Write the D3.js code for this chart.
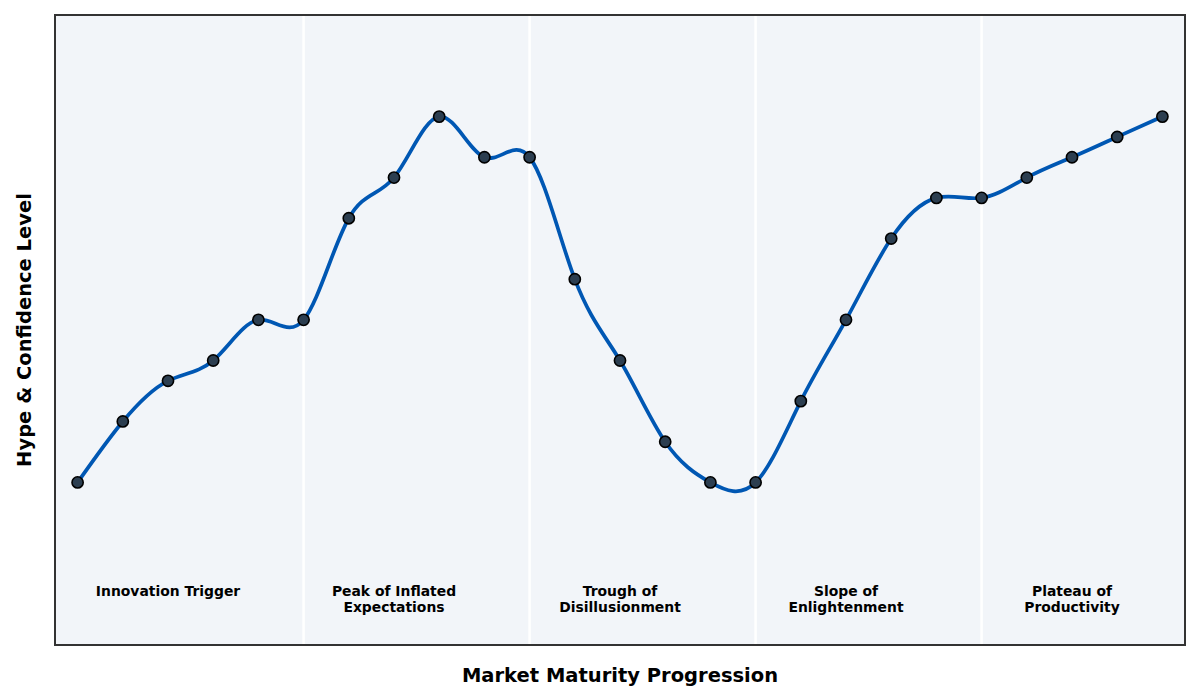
<!DOCTYPE html>
<html>
<head>
<meta charset="utf-8">
<script src="https://cdn.jsdelivr.net/npm/d3@7"></script>
<style>
  body { margin: 0; background: #fff; }
  svg { display: block; font-family: "DejaVu Sans", sans-serif; }
</style>
</head>
<body>
<div id="chart"></div>
<script>
// hype cycle points, one per step along the x axis
let steps = d3.range(0, 25);
let hype = [10, 25, 35, 40, 50, 50, 75, 85, 100, 90, 90, 60, 40, 20, 10, 10, 30, 50, 70, 80, 80, 85, 90, 95, 100];

// phases of the cycle
let phaseNames = [
  ["Innovation Trigger"],
  ["Peak of Inflated", "Expectations"],
  ["Trough of", "Disillusionment"],
  ["Slope of", "Enlightenment"],
  ["Plateau of", "Productivity"]
];
let phaseCenters = [2, 7, 12, 17, 22];
let phaseBounds = [5, 10, 15, 20];

let w = 1200;
let h = 700;
let margin = { left: 55, right: 15, top: 15, bottom: 55 };

let svg = d3.select("#chart")
  .append("svg")
  .attr("width", w)
  .attr("height", h);

let xScale = d3.scaleLinear()
  .domain([-0.5, 24.5])
  .range([margin.left, w - margin.right]);

let yScale = d3.scaleLinear()
  .domain([-30, 125])
  .range([h - margin.bottom, margin.top]);

// plot background
svg.append("rect")
  .attr("x", margin.left)
  .attr("y", margin.top)
  .attr("width", w - margin.left - margin.right)
  .attr("height", h - margin.top - margin.bottom)
  .attr("fill", "#f2f5f9");

// phase separators
svg.selectAll(".sep")
  .data(phaseBounds)
  .enter()
  .append("line")
  .attr("class", "sep")
  .attr("x1", d => xScale(d))
  .attr("x2", d => xScale(d))
  .attr("y1", margin.top)
  .attr("y2", h - margin.bottom)
  .attr("stroke", "#ffffff")
  .attr("stroke-width", 2.5);

// phase labels
let labels = svg.selectAll(".phase")
  .data(phaseNames)
  .enter()
  .append("text")
  .attr("class", "phase")
  .attr("text-anchor", "middle")
  .attr("font-size", 13.9)
  .attr("font-weight", "bold")
  .attr("fill", "#000");
labels.each(function (d, i) {
  let t = d3.select(this);
  d.forEach(function (line, j) {
    t.append("tspan")
      .attr("x", xScale(phaseCenters[i]))
      .attr("y", yScale(-15) + 11.5 + j * 16)
      .text(line);
  });
});

// the curve
let line = d3.line()
  .x((d, i) => xScale(steps[i]))
  .y(d => yScale(d))
  .curve(d3.curveNatural);

svg.append("path")
  .datum(hype)
  .attr("d", line)
  .attr("fill", "none")
  .attr("stroke", "#0057b3")
  .attr("stroke-width", 3.7);

svg.selectAll(".pt")
  .data(hype)
  .enter()
  .append("circle")
  .attr("class", "pt")
  .attr("cx", (d, i) => xScale(steps[i]))
  .attr("cy", d => yScale(d))
  .attr("r", 5.6)
  .attr("fill", "#2c3e50")
  .attr("stroke", "#000")
  .attr("stroke-width", 1.6);

// frame
svg.append("rect")
  .attr("x", margin.left)
  .attr("y", margin.top)
  .attr("width", w - margin.left - margin.right)
  .attr("height", h - margin.top - margin.bottom)
  .attr("fill", "none")
  .attr("stroke", "#333333")
  .attr("stroke-width", 2);

// axis titles
svg.append("text")
  .attr("x", (margin.left + w - margin.right) / 2)
  .attr("y", 682)
  .attr("text-anchor", "middle")
  .attr("font-size", 19.5)
  .attr("font-weight", "bold")
  .text("Market Maturity Progression");

svg.append("text")
  .attr("transform", "translate(30.5," + (margin.top + h - margin.bottom) / 2 + ") rotate(-90)")
  .attr("text-anchor", "middle")
  .attr("font-size", 19.5)
  .attr("font-weight", "bold")
  .text("Hype & Confidence Level");
</script>
</body>
</html>
